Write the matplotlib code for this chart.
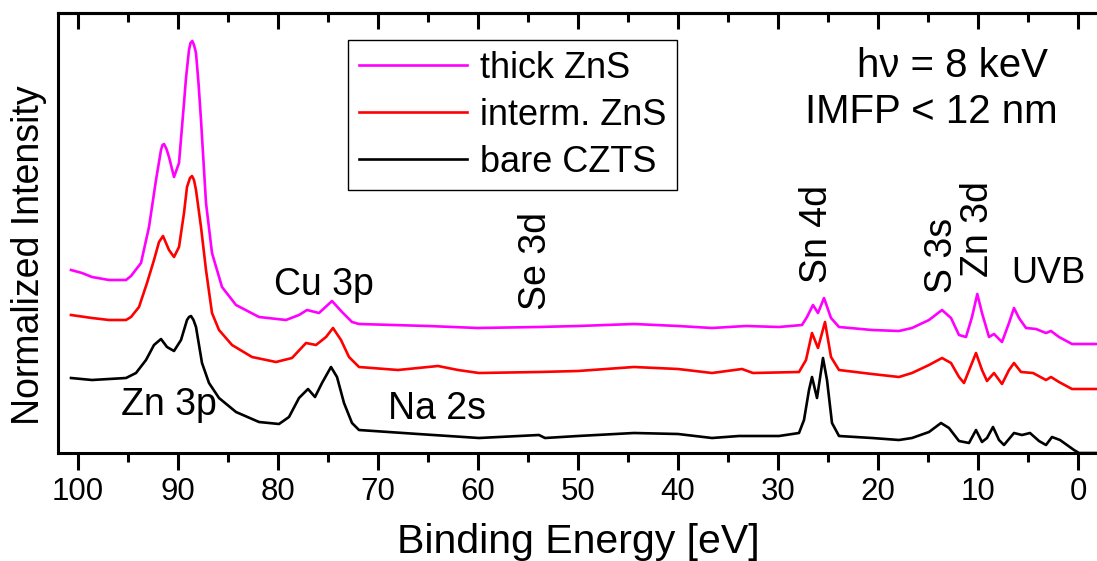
import numpy as np
import matplotlib.pyplot as plt

plt.rcParams['font.family'] = ['Liberation Sans', 'DejaVu Sans']

# espectros (energia de enlace en eV, intensidad en u.a.)
e_thick = [100.7, 99.6, 98.6, 96.9, 95.2, 94.7, 93.7, 92.9, 92.2, 91.7, 91.55, 91.4, 91.15,
           90.9, 90.4, 89.9, 89.4, 89.2, 88.9, 88.75, 88.57, 88.4, 88.2, 87.95, 87.7, 87.2,
           86.6, 85.6, 84.2, 81.9, 79.2, 77.9, 77.1, 75.9, 74.6, 73.6, 72.6, 71.9, 65, 60,
           54, 50, 44.4, 40, 36.6, 33.2, 29.9, 27.6, 27.1, 26.5, 26.0, 25.4, 24.7, 23.9,
           20.6, 17.9, 16.6, 14.9, 13.6, 12.7, 11.9, 11.2, 10.6, 10.07, 9.6, 8.9, 8.4, 7.6,
           6.9, 6.4, 5.9, 5.2, 4.2, 3.2, 2.7, 1.9, 0.6, -2.0]
i_thick = [183, 180, 176, 173, 173, 177, 190, 226, 273, 303, 308, 309, 304,
           296, 276, 290, 350, 375, 403, 410, 412, 408, 400, 370, 333, 250,
           200, 166, 148, 136, 133, 138, 143, 140, 152, 141, 131, 129, 127, 125,
           126, 127, 129, 127, 125, 127, 126, 128, 136, 148, 140, 155, 135, 126,
           123, 122, 125, 133, 143, 135, 118, 116, 136, 159, 140, 116, 119, 111,
           130, 145, 135, 125, 124, 120, 122, 116, 109, 109]

e_interm = [100.7, 98.6, 96.9, 95.2, 94.7, 93.9, 93.1, 92.4, 91.9, 91.5, 90.9, 90.4, 89.9,
            89.4, 89.1, 88.8, 88.6, 88.4, 88.2, 87.7, 87.2, 86.6, 85.9, 84.6, 82.6, 80.2,
            78.6, 77.2, 76.2, 75.2, 74.5, 73.7, 72.9, 71.9, 68, 64, 62, 59.9, 53.9, 50,
            44.4, 40, 36.6, 33.6, 32.5, 27.9, 27.2, 26.6, 26.0, 25.3, 24.7, 23.9, 20.6,
            17.9, 16.6, 14.9, 13.6, 12.7, 11.9, 11.4, 10.6, 10.2, 9.6, 9.1, 8.4, 7.6, 6.9,
            6.4, 5.7, 4.5, 3.2, 2.7, 1.9, 0.6, -2.0]
i_interm = [138, 135, 133, 133, 136, 146, 170, 193, 211, 217, 203, 196, 206,
            240, 266, 275, 277, 273, 263, 226, 183, 140, 123, 108, 96, 91,
            95, 110, 108, 116, 125, 113, 96, 86, 83, 87, 83, 80, 81, 82,
            86, 84, 80, 84, 80, 81, 93, 120, 105, 131, 96, 83, 79,
            76, 80, 88, 95, 90, 76, 70, 90, 100, 83, 72, 80, 69, 83,
            90, 81, 80, 73, 76, 71, 64, 64]

e_bare = [100.7, 98.6, 95.2, 94.2, 93.2, 92.4, 91.7, 91.1, 90.4, 89.7, 89.1, 88.9, 88.7,
          88.45, 88.2, 87.6, 86.9, 85.9, 84.2, 81.9, 79.9, 78.9, 77.9, 77.0, 76.3, 75.6,
          74.7, 74.1, 73.4, 72.6, 71.9, 66, 59.9, 53.9, 53.3, 50, 44.4, 40, 36.6, 33.9,
          29.9, 27.9, 27.4, 26.9, 26.6, 26.1, 25.5, 25.1, 24.6, 23.9, 20.6, 17.9, 16.6,
          14.9, 13.7, 12.9, 11.9, 10.9, 10.2, 9.6, 9.1, 8.5, 7.9, 7.4, 6.4, 5.6, 4.8, 3.9,
          3.2, 2.6, 1.8, 0.4, -0.1, -2.0]
i_bare = [75, 73, 75, 80, 93, 108, 114, 106, 102, 113, 133, 136, 137,
          133, 126, 90, 70, 55, 41, 31, 29, 36, 55, 64, 56, 70,
          86, 76, 50, 30, 23, 19, 15, 18, 15, 17, 20, 19, 15, 17,
          17, 20, 33, 63, 76, 55, 95, 73, 30, 17, 15, 13, 15,
          21, 30, 25, 12, 10, 23, 11, 15, 26, 13, 8, 20, 18, 20, 12,
          8, 16, 13, 3, 0, 0]

etiquetas = ['thick ZnS', 'interm. ZnS', 'bare CZTS']
colores = ['#ff00ff', '#ff0000', 'black']

fig = plt.figure(figsize=(10.97, 5.61), dpi=100)
ax = fig.add_axes([58/1097, 1 - 453/561, 1040/1097, 440/561])

for e, i, lab, col in zip([e_thick, e_interm, e_bare], [i_thick, i_interm, i_bare], etiquetas, colores):
    ax.plot(e, i, color=col, lw=1.9, label=lab, solid_joinstyle='round')

ax.set_xlim(102, -2)
ax.set_ylim(0, 440)
ax.set_yticks([])
ax.set_xticks(np.arange(100, -1, -10))
ax.set_xticks(np.arange(95, 0, -10), minor=True)
ax.tick_params(axis='x', which='major', direction='out', length=12, width=2.2, labelsize=22.5, pad=5)
ax.tick_params(axis='x', which='minor', direction='out', length=6.5, width=2.2)
for s in ax.spines.values():
    s.set_linewidth(2.2)
ax.spines['right'].set_visible(False)

arriba = ax.secondary_xaxis('top')
arriba.set_xticks(np.arange(100, -1, -10))
arriba.set_xticks(np.arange(95, 0, -10), minor=True)
arriba.tick_params(which='major', direction='in', length=11.5, width=2.2, labeltop=False)
arriba.tick_params(which='minor', direction='in', length=6.5, width=2.2)
arriba.spines['top'].set_linewidth(2.2)

ax.set_xlabel('Binding Energy [eV]', fontsize=29.5, labelpad=12)
ax.set_ylabel('Normalized Intensity', fontsize=27)
ax.yaxis.set_label_coords(-0.011, 0.45)

leg = ax.legend(loc='upper left', bbox_to_anchor=(0.279, 0.939), borderaxespad=0,
                fontsize=26, handlelength=3.0, handletextpad=0.35, borderpad=0.3,
                labelspacing=0.33, fancybox=False, framealpha=1)
leg.get_frame().set_edgecolor('black')
leg.get_frame().set_linewidth(1.0)

ax.text(22.1, 376, 'h\u03bd = 8 keV', fontsize=29, ha='left', va='baseline')
ax.text(27.3, 330, 'IMFP < 12 nm', fontsize=29, ha='left', va='baseline')

ax.text(80.4, 158, 'Cu 3p', fontsize=27, ha='left', va='baseline')
ax.text(95.7, 38, 'Zn 3p', fontsize=27, ha='left', va='baseline')
ax.text(69.0, 34, 'Na 2s', fontsize=27, ha='left', va='baseline')
ax.text(6.7, 170, 'UVB', fontsize=26, ha='left', va='baseline')
ax.text(54.2, 143, 'Se 3d', fontsize=27, rotation=90, ha='center', va='bottom')
ax.text(26.1, 170, 'Sn 4d', fontsize=27, rotation=90, ha='center', va='bottom')
ax.text(13.6, 160, 'S 3s', fontsize=27, rotation=90, ha='center', va='bottom')
ax.text(10.0, 176, 'Zn 3d', fontsize=27, rotation=90, ha='center', va='bottom')

fig.savefig('out.png', dpi=100)
